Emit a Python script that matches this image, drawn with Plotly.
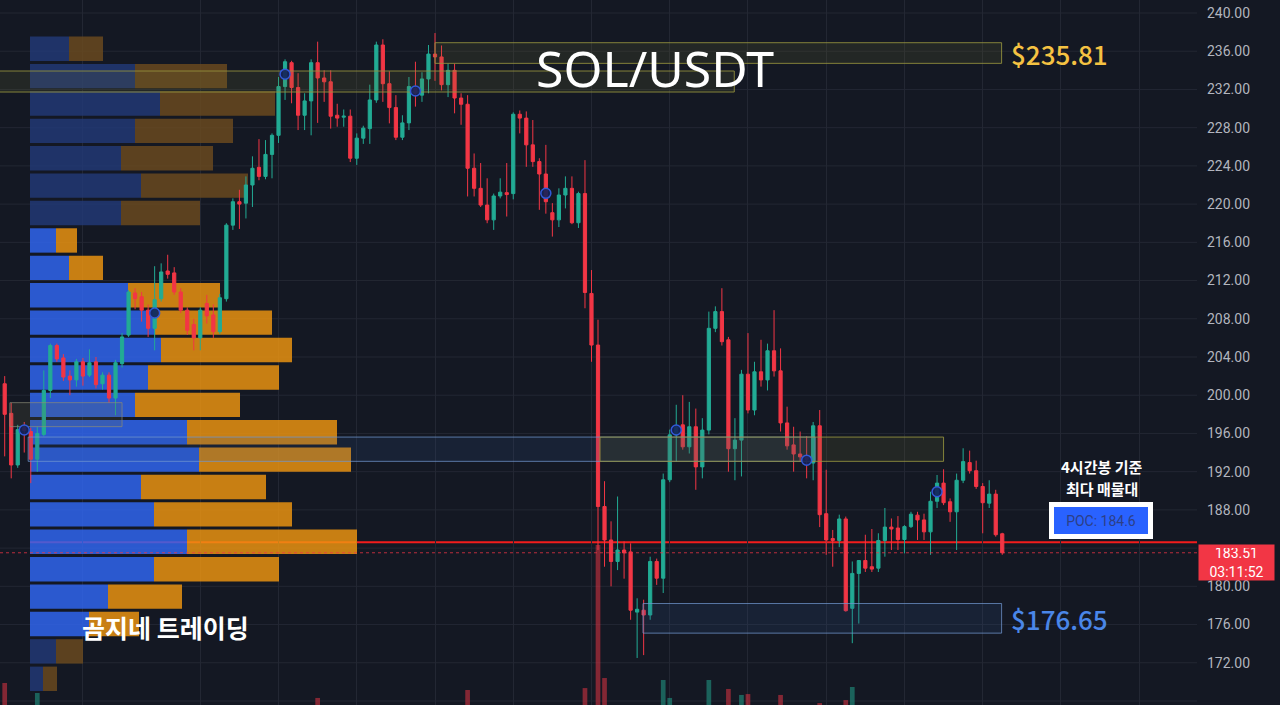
import plotly.graph_objects as go

# ---------------- SOL/USDT 4h candles (oldest first) ----------------
opens = [
    201.2, 198.1, 192.7, 196.6, 196.2, 193.3, 195.9, 200.5, 205.2, 203.9,
    202.0, 201.6, 203.5, 202.1, 203.5, 201.2, 202.1, 199.7, 203.3, 206.3,
    210.7, 210.3, 208.9, 207.0, 210.1, 213.0, 212.8, 210.8, 208.9, 207.4,
    206.0, 209.6, 208.4, 206.65, 210.1, 217.8, 220.25, 220.1, 222.0, 223.85,
    222.9, 225.2, 227.2, 232.3, 234.8, 232.2, 229.3, 230.8, 234.8, 233.2,
    232.8, 229.3, 229.1, 229.2, 224.8, 226.9, 227.9, 230.9, 236.65, 232.6,
    230.1, 227.0, 228.5, 232.1, 231.4, 233.1, 235.7, 235.4, 232.5, 234.0,
    231.1, 230.45, 223.75, 221.65, 219.9, 218.35, 220.85, 221.2, 221.1, 229.4,
    229.0, 226.2, 224.45, 223.15, 219.1, 218.35, 220.95, 221.65, 218.05, 221.1,
    210.65, 205.25, 188.35, 184.85, 182.6, 183.8, 183.6, 177.3, 177.5, 177.0,
    182.6, 180.85, 191.15, 195.85, 196.9, 194.6, 196.7, 192.5, 196.35, 207.0,
    208.75, 205.8, 194.4, 195.3, 202.2, 198.45, 202.45, 201.6, 204.65, 202.55,
    197.1, 194.8, 193.85, 193.5, 192.9, 196.8, 187.6, 185.0, 184.8, 187.05,
    177.7, 181.35, 182.7, 182.05, 181.9, 184.8, 186.2, 186.1, 184.9, 186.25,
    187.45, 186.95, 185.7, 188.9, 190.8, 188.85, 187.8, 191.1, 192.95, 192.1,
    190.45, 188.7, 189.65, 185.5,
]
highs = [
    202.0, 199.2, 196.9, 197.2, 196.6, 196.7, 202.6, 205.4, 205.4, 204.3,
    202.6, 203.8, 203.9, 204.8, 204.0, 202.4, 202.4, 203.7, 206.5, 211.0,
    211.2, 210.8, 209.5, 213.5, 213.8, 214.7, 213.4, 211.2, 209.2, 208.0,
    209.2, 210.5, 209.5, 210.6, 218.0, 220.6, 221.5, 222.9, 225.0, 226.8,
    226.7, 227.4, 233.3, 235.15, 235.0, 233.7, 231.6, 235.15, 237.0, 234.0,
    234.0, 230.5, 229.9, 229.9, 227.4, 228.2, 232.5, 237.0, 237.25, 233.9,
    231.4, 229.3, 233.3, 234.9, 233.8, 236.65, 237.9, 236.6, 234.7, 234.7,
    231.6, 231.4, 225.3, 224.3, 222.7, 221.1, 222.7, 224.3, 229.6, 229.8,
    229.7, 228.8, 224.8, 226.2, 220.1, 221.65, 222.9, 222.9, 221.3, 224.6,
    213.1, 207.9, 191.0, 186.8, 189.4, 184.7, 184.5, 178.75, 178.6, 183.1,
    182.9, 191.8, 196.4, 199.0, 200.0, 199.3, 198.6, 197.6, 208.75, 209.3,
    211.2, 206.1, 197.6, 202.65, 206.5, 203.5, 205.8, 205.4, 208.9, 204.9,
    198.8, 196.7, 196.2, 195.7, 197.2, 198.45, 192.2, 185.9, 187.5, 187.3,
    182.6, 182.75, 185.4, 186.0, 185.55, 188.2, 187.1, 187.35, 186.4, 187.8,
    187.8, 187.6, 189.9, 191.65, 192.25, 189.2, 191.8, 194.45, 194.2, 193.15,
    190.8, 191.1, 190.1, 185.6,
]
lows = [
    193.6, 191.3, 192.4, 194.0, 190.8, 192.0, 195.7, 199.7, 203.5, 201.5,
    200.0, 200.9, 201.0, 201.9, 200.7, 200.6, 199.2, 197.9, 202.9, 206.1,
    209.0, 207.7, 206.1, 204.7, 209.8, 212.2, 210.5, 208.6, 206.3, 204.7,
    204.7, 207.5, 206.0, 206.4, 209.8, 217.3, 217.4, 218.5, 219.7, 222.5,
    222.6, 222.7, 226.4, 230.9, 230.55, 227.75, 227.75, 227.2, 228.5, 230.7,
    227.9, 228.1, 228.1, 224.4, 224.1, 226.3, 226.3, 230.6, 230.7, 228.45,
    226.7, 226.7, 227.75, 230.2, 230.7, 231.6, 232.9, 231.9, 231.2, 229.5,
    228.3, 220.8, 220.8, 219.7, 218.0, 217.3, 220.6, 218.7, 220.5, 227.4,
    223.9, 223.9, 219.4, 219.0, 216.6, 217.6, 219.55, 217.9, 217.5, 209.1,
    203.5, 183.8, 182.05, 180.0, 181.7, 180.8, 176.5, 172.5, 172.8, 176.5,
    180.15, 179.3, 190.9, 193.05, 194.3, 193.9, 190.1, 191.3, 195.9, 206.6,
    205.2, 192.0, 191.1, 191.5, 198.1, 197.9, 200.9, 200.5, 201.95, 196.2,
    194.3, 192.0, 193.05, 191.3, 191.1, 186.2, 183.3, 182.05, 184.1, 177.35,
    174.05, 176.1, 181.5, 181.5, 181.5, 183.1, 183.8, 183.8, 183.45, 186.1,
    184.85, 184.85, 183.3, 188.2, 188.5, 186.75, 183.8, 190.8, 191.8, 190.2,
    185.55, 188.2, 185.2, 183.3,
]
closes = [
    198.0, 192.7, 196.4, 196.3, 193.3, 196.0, 200.5, 205.2, 203.8, 201.9,
    201.6, 203.5, 202.0, 203.4, 201.1, 202.1, 199.7, 203.4, 206.1, 210.8,
    210.1, 208.9, 207.0, 210.0, 212.9, 212.65, 210.8, 208.9, 206.8, 206.0,
    208.9, 208.3, 206.65, 210.2, 217.8, 220.25, 220.0, 222.0, 223.75, 222.9,
    225.2, 227.2, 232.3, 234.9, 232.2, 229.3, 230.8, 234.8, 233.2, 232.8,
    229.2, 229.0, 229.2, 224.8, 226.9, 227.95, 230.9, 236.65, 232.6, 230.1,
    227.0, 228.5, 232.3, 231.6, 233.1, 235.7, 235.4, 232.5, 234.0, 231.1,
    230.45, 223.75, 221.65, 219.9, 218.35, 220.85, 221.25, 221.0, 229.4, 229.0,
    226.2, 224.45, 223.15, 220.25, 218.35, 220.95, 221.65, 218.05, 221.1, 210.75,
    205.25, 188.35, 184.85, 182.6, 183.8, 183.5, 177.5, 177.6, 177.0, 182.6,
    180.85, 191.15, 195.85, 196.7, 194.6, 196.7, 192.5, 196.35, 207.0, 208.75,
    205.6, 194.4, 195.3, 202.2, 198.45, 202.45, 201.6, 204.65, 202.55, 197.1,
    194.7, 193.85, 193.55, 193.3, 196.8, 187.5, 184.85, 184.8, 187.05, 177.45,
    181.35, 182.7, 181.9, 181.8, 184.8, 186.2, 186.0, 184.9, 186.25, 187.55,
    186.95, 185.7, 188.9, 190.8, 188.75, 187.8, 191.1, 193.05, 192.1, 190.45,
    188.75, 189.65, 185.4, 183.51,
]
volumes = [
    425, 240, 210, 150, 230, 368, 260, 280, 180, 170,
    150, 160, 140, 150, 170, 120, 160, 230, 210, 270,
    150, 160, 180, 250, 230, 170, 190, 180, 170, 160,
    190, 150, 170, 210, 290, 240, 200, 210, 230, 200,
    210, 220, 280, 260, 230, 240, 190, 270, 340, 190,
    230, 140, 130, 250, 190, 150, 220, 290, 280, 210,
    220, 170, 220, 200, 190, 240, 230, 220, 200, 230,
    170, 385, 240, 190, 190, 200, 150, 180, 290, 160,
    220, 190, 200, 220, 190, 180, 160, 210, 200, 396,
    290, 1208, 453, 280, 270, 200, 290, 260, 240, 290,
    220, 442, 340, 250, 230, 210, 260, 250, 442, 220,
    250, 391, 230, 357, 362, 260, 220, 240, 250, 357,
    250, 210, 170, 170, 250, 311, 280, 170, 200, 328,
    402, 230, 190, 170, 220, 210, 150, 170, 160, 180,
    150, 170, 230, 200, 210, 170, 240, 220, 170, 200,
    210, 160, 240, 200,
]

# ---------------- volume profile (price bins, bottom to top) ----------------
vp_bin_low = 168.89
vp_bin_size = 2.867
vp_buy = [13, 26, 59, 78, 124, 157, 124, 111, 169, 157, 105, 118,
          131, 125, 98, 39, 26, 91, 111, 91, 105, 130, 105, 39]
vp_sell = [14, 27, 50, 74, 125, 170, 138, 125, 152, 150, 105, 131,
           131, 117, 92, 34, 21, 79, 107, 92, 98, 115, 92, 34]
value_area_rows = (2, 16)          # first / last bin inside the value area

poc_price = 184.6
last_price = 183.51
bar_countdown = "03:11:52"

# price scale labels
price_ticks = [168, 172, 176, 180, 188, 192, 196, 200, 204, 208, 212,
               216, 220, 224, 228, 232, 236, 240]

# pivot markers
pivot_idx = [3, 23, 43, 63, 83, 103, 123, 143]
pivot_price = [196.36, 208.6, 233.6, 231.84, 221.13, 196.36, 193.2, 189.9]

# zones: (first candle, last candle, low, high)
zone_supply = (66.0, 152.9, 234.73, 236.89)
zone_supply_prev = (-1.0, 111.9, 231.73, 233.93)
zone_mid_yellow = (91.3, 144.0, 193.08, 195.62)
zone_mid_blue = (3.6, 124.3, 193.08, 195.62)
zone_left = (0.8, 18.0, 196.71, 199.22)
zone_demand = (97.9, 152.9, 175.1, 178.2)

# ---------------- styling ----------------
BG = "#141823"
GRID = "#232733"
UP = "#22ab94"
DOWN = "#f23645"
OLIVE_LINE = "rgba(150,148,62,0.85)"
OLIVE_FILL = "rgba(120,118,50,0.16)"
BLUE_LINE = "rgba(112,150,205,0.75)"
BLUE_FILL = "rgba(50,90,150,0.16)"

X_RANGE = [-0.72, 182.87]      # candle index axis
VP_RANGE = [-30, 1167]         # volume-profile axis
Y_RANGE = [167.58, 241.36]
VOL_RANGE = [300, 4300]

idx = list(range(len(opens)))
fig = go.Figure()

# volume profile (drawn on the base subplot, beneath the candles)
centers = [vp_bin_low + vp_bin_size * (k + 0.5) for k in range(len(vp_buy))]
in_va = [value_area_rows[0] <= k <= value_area_rows[1] for k in range(len(vp_buy))]
buy_cols = ["#3168f5" if v else "#223a78" for v in in_va]
sell_cols = ["#f09610" if v else "#6c4b1f" for v in in_va]
bar_h = vp_bin_size * 0.89
fig.add_trace(go.Bar(orientation="h", y=centers, x=vp_buy, base=[0] * len(vp_buy),
                     width=bar_h, marker=dict(color=buy_cols, line=dict(width=0)),
                     opacity=0.82, xaxis="x", yaxis="y", hoverinfo="skip"))
fig.add_trace(go.Bar(orientation="h", y=centers, x=vp_sell, base=vp_buy,
                     width=bar_h, marker=dict(color=sell_cols, line=dict(width=0)),
                     opacity=0.82, xaxis="x", yaxis="y", hoverinfo="skip"))


def zone_trace(z, line, fill):
    x0, x1, lo, hi = z
    return go.Scatter(x=[x0, x1, x1, x0, x0], y=[lo, lo, hi, hi, lo], mode="lines",
                      fill="toself", fillcolor=fill, line=dict(color=line, width=1),
                      xaxis="x2", yaxis="y", hoverinfo="skip")


fig.add_trace(zone_trace(zone_supply_prev, OLIVE_LINE, OLIVE_FILL))
fig.add_trace(zone_trace(zone_supply, OLIVE_LINE, OLIVE_FILL))
fig.add_trace(zone_trace(zone_mid_blue, BLUE_LINE, BLUE_FILL))
fig.add_trace(zone_trace(zone_mid_yellow, OLIVE_LINE, OLIVE_FILL))
fig.add_trace(zone_trace(zone_left, "rgba(140,140,120,0.7)", "rgba(110,110,70,0.18)"))
fig.add_trace(zone_trace(zone_demand, BLUE_LINE, BLUE_FILL))

# candles
fig.add_trace(go.Candlestick(
    x=idx, open=opens, high=highs, low=lows, close=closes,
    increasing=dict(line=dict(color=UP, width=1), fillcolor=UP),
    decreasing=dict(line=dict(color=DOWN, width=1), fillcolor=DOWN),
    whiskerwidth=0, xaxis="x2", yaxis="y", hoverinfo="skip"))

# pivot markers
fig.add_trace(go.Scatter(x=pivot_idx, y=pivot_price, mode="markers",
                         marker=dict(size=10, color="rgba(20,34,90,0.9)",
                                     line=dict(color="#3159d8", width=1.5)),
                         xaxis="x2", yaxis="y", hoverinfo="skip"))

# volume histogram
vol_cols = ["rgba(34,171,148,0.5)" if c >= o else "rgba(242,54,69,0.5)"
            for o, c in zip(opens, closes)]
fig.add_trace(go.Bar(x=idx, y=volumes, width=0.72, marker=dict(color=vol_cols, line=dict(width=0)),
                     xaxis="x2", yaxis="y3", hoverinfo="skip"))

# POC line and last-price line
fig.add_shape(type="line", xref="x", yref="y", x0=0, x1=VP_RANGE[1], y0=poc_price, y1=poc_price,
              line=dict(color="#f21c1c", width=2), layer="below")
fig.add_shape(type="line", xref="paper", yref="y", x0=0, x1=1, y0=last_price, y1=last_price,
              line=dict(color="rgba(242,54,69,0.75)", width=1, dash="dot"), layer="above")

grid_idx = [12, 30, 42, 54, 66, 78, 90, 102, 114, 126, 138, 150, 162, 174]

fig.update_layout(
    width=1280, height=705,
    margin=dict(l=0, r=83, t=0, b=0),
    paper_bgcolor=BG, plot_bgcolor=BG,
    showlegend=False, barmode="overlay",
    xaxis=dict(range=VP_RANGE, visible=False, fixedrange=True, rangeslider=dict(visible=False)),
    xaxis2=dict(range=X_RANGE, overlaying="x", tickvals=grid_idx, showticklabels=False,
                showgrid=True, gridcolor=GRID, gridwidth=1, zeroline=False, ticks="",
                rangeslider=dict(visible=False)),
    yaxis=dict(range=Y_RANGE, side="right", tickvals=price_ticks, tickformat=".2f",
               showgrid=False, zeroline=False, ticks="",
               tickfont=dict(color="#b2b5be", size=14, family="Roboto"),
               ticklabelstandoff=9),
    yaxis3=dict(range=VOL_RANGE, overlaying="y", visible=False),
)

# horizontal price grid (every 4.00)
for p in range(168, 241, 4):
    fig.add_shape(type="line", xref="paper", yref="y", x0=0, x1=1, y0=p, y1=p,
                  line=dict(color=GRID, width=1), layer="below")

mid_sup = (zone_supply[2] + zone_supply[3]) / 2
mid_dem = (zone_demand[2] + zone_demand[3]) / 2
cjk = "Noto Sans CJK KR"

fig.add_annotation(text="SOL/USDT", xref="paper", yref="paper", x=0.547, y=0.904,
                   xanchor="center", yanchor="middle", showarrow=False,
                   font=dict(family="Noto Sans", size=50, color="white"))
fig.add_annotation(text=f"${mid_sup:.2f}", xref="x2", yref="y", x=zone_supply[1] + 1.2, y=mid_sup,
                   xanchor="left", yanchor="middle", showarrow=False,
                   font=dict(family=cjk, size=26, color="#f5c242", weight=500))
fig.add_annotation(text=f"${mid_dem:.2f}", xref="x2", yref="y", x=zone_demand[1] + 1.2, y=mid_dem,
                   xanchor="left", yanchor="middle", showarrow=False,
                   font=dict(family=cjk, size=26, color="#4a86e8", weight=500))
fig.add_annotation(text="<b>곰지네 트레이딩</b>", xref="paper", yref="paper", x=0.138, y=0.111,
                   xanchor="center", yanchor="middle", showarrow=False,
                   font=dict(family=cjk, size=25, color="white"))
fig.add_annotation(text="<b>4시간봉 기준</b>", xref="paper", yref="paper",
                   x=0.9206, y=0.339, xanchor="center", yanchor="middle", showarrow=False,
                   height=20, borderpad=0,
                   font=dict(family=cjk, size=15, color="white"))
fig.add_annotation(text="<b>최다 매물대</b>", xref="paper", yref="paper",
                   x=0.9206, y=0.308, xanchor="center", yanchor="middle", showarrow=False,
                   height=20, borderpad=0,
                   font=dict(family=cjk, size=15, color="white"))
fig.add_annotation(text=f"POC: {poc_price}", xref="x2", yref="y", x=168.1, y=poc_price,
                   xanchor="center", yanchor="bottom", yshift=3, showarrow=False,
                   width=86, height=19, borderpad=4, borderwidth=5,
                   bgcolor="#2962ff", bordercolor="white",
                   font=dict(family="Roboto", size=14, color="#2d3f86"))
fig.add_annotation(text=f"{last_price:.2f}<br>{bar_countdown}", xref="paper", yref="y",
                   x=1, y=last_price, xanchor="left", yanchor="top", xshift=1, yshift=9,
                   showarrow=False, width=69, height=29, borderpad=3, bgcolor=DOWN,
                   font=dict(family="Roboto", size=14, color="white"))

fig.write_html("out.html")
